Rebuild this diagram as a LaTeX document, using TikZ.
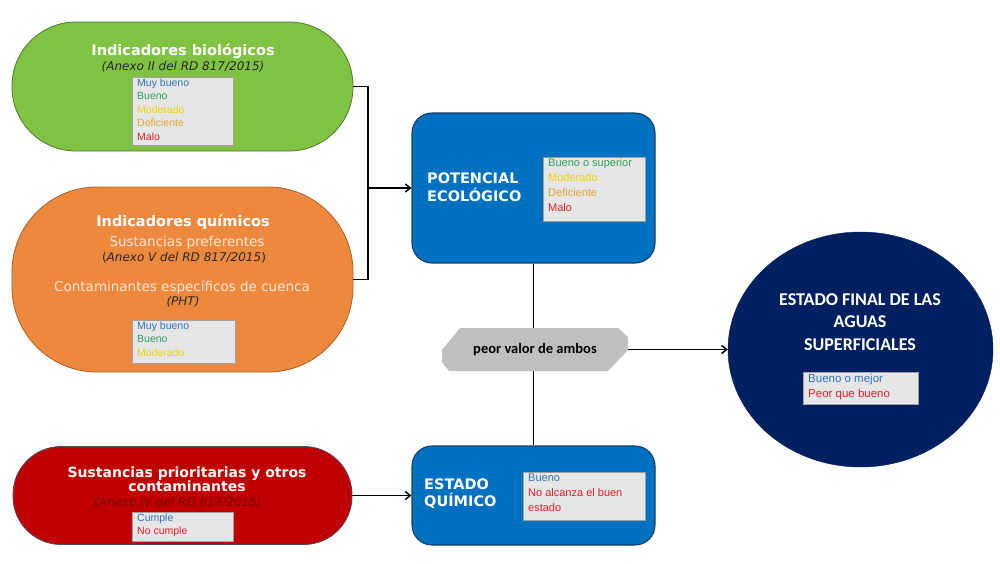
\documentclass[tikz,border=0pt]{standalone}
\usepackage{fontspec}
\setmainfont{DejaVu Sans}
\newfontfamily\carl{Carlito}
\newfontfamily\tahf{Liberation Sans}
\usetikzlibrary{arrows.meta,shapes.geometric}
\definecolor{bioG}{RGB}{128,195,66}
\definecolor{bioD}{RGB}{80,120,45}
\definecolor{quimO}{RGB}{237,137,62}
\definecolor{quimD}{RGB}{170,95,35}
\definecolor{priR}{RGB}{192,0,0}
\definecolor{priD}{RGB}{70,75,110}
\definecolor{boxB}{RGB}{0,112,192}
\definecolor{boxD}{RGB}{25,60,110}
\definecolor{navy}{RGB}{0,32,96}
\definecolor{hexgray}{RGB}{191,191,191}
\definecolor{lfill}{RGB}{230,230,230}
\definecolor{ldraw}{RGB}{160,160,160}
\definecolor{cMuy}{RGB}{46,117,182}
\definecolor{cBueno}{RGB}{45,160,95}
\definecolor{cMod}{RGB}{232,214,0}
\definecolor{cDef}{RGB}{222,165,45}
\definecolor{cMalo}{RGB}{222,30,40}
\definecolor{cream}{RGB}{252,230,215}
\definecolor{dkred}{RGB}{120,0,0}
\begin{document}
\begin{tikzpicture}[x=1pt,y=-1pt,
  stad/.style={line width=0.8pt, inner sep=0pt},
  bbox/.style={fill=boxB, draw=boxD, line width=1.1pt, rounded corners=20pt, inner sep=0pt},
  ttl/.style={text=white, font=\bfseries\fontsize{14.5}{14}\selectfont, inner sep=0pt, align=center},
  sub/.style={text=black!85, font=\fontsize{12}{13}\selectfont, inner sep=0pt, align=center},
  lbox/.style={fill=lfill, draw=ldraw, line width=0.6pt, inner sep=0pt},
  ltxt/.style={font=\tahf\fontsize{10.5}{13.5}\selectfont, align=left, inner xsep=5pt, inner ysep=1.5pt, anchor=north west},
  ltxtb/.style={font=\tahf\fontsize{11}{15}\selectfont, align=left, inner xsep=5pt, inner ysep=1.5pt, anchor=north west},
  conn/.style={line width=1.5pt, black},
  arr/.style={conn, -{Straight Barb[length=5pt,width=8pt]}}
]
\useasboundingbox (0,0) rectangle (1000,563);
\fill[white] (0,0) rectangle (1000,563);

% ---------- left stadiums ----------
\node[stad, fill=bioG, draw=bioD, minimum width=341pt, minimum height=129pt, rounded corners=64pt] (bio) at (182.5,86.5) {};
\node[stad, fill=quimO, draw=quimD, minimum width=341pt, minimum height=185pt, rounded corners=85pt] (quim) at (182.5,279.5) {};
\node[stad, fill=priR, draw=priD, minimum width=339pt, minimum height=98pt, rounded corners=48pt] (pri) at (182.5,495.5) {};

% biological
\node[ttl] (bioT) at (183,51) {Indicadores biológicos};
\node[sub] (bioA) at (183,67) {\itshape (Anexo II del RD 817/2015)};
\node[lbox, minimum width=101pt, minimum height=68pt, anchor=north west] (bioL) at (132,77) {};
\node[ltxt] (bioLt) at (bioL.north west) {\textcolor{cMuy}{Muy bueno}\\\textcolor{cBueno}{Bueno}\\\textcolor{cMod}{Moderado}\\\textcolor{cDef}{Deficiente}\\\textcolor{cMalo}{Malo}};

% chemical
\node[ttl] (quimT) at (183,222) {Indicadores químicos};
\node[sub, text=cream, font=\fontsize{13.5}{14}\selectfont] (quimS1) at (187,243) {Sustancias preferentes};
\node[sub] (quimA1) at (184,258) {(\textit{Anexo V del RD 817/2015})};
\node[sub, text=cream, font=\fontsize{13.5}{14}\selectfont] (quimS2) at (182,287) {Contaminantes específicos de cuenca};
\node[sub] (quimA2) at (183,302) {\itshape (PHT)};
\node[lbox, minimum width=103pt, minimum height=43pt, anchor=north west] (quimL) at (132,320) {};
\node[ltxt] (quimLt) at (quimL.north west) {\textcolor{cMuy}{Muy bueno}\\\textcolor{cBueno}{Bueno}\\\textcolor{cMod}{Moderado}};

% priority substances
\node[ttl, font=\bfseries\fontsize{14}{14}\selectfont] (priT) at (187,479) {Sustancias prioritarias y otros\\contaminantes};
\node[sub, text=dkred] (priA) at (178,502.5) {\itshape (Anexo IV del RD 817/2015)};
\node[lbox, minimum width=101pt, minimum height=29pt, anchor=north west] (priL) at (132,512) {};
\node[ltxt] (priLt) at (priL.north west) {\textcolor{cMuy}{Cumple}\\\textcolor{cMalo}{No cumple}};

% ---------- blue boxes ----------
\node[bbox, minimum width=243pt, minimum height=150pt] (pot) at (533.5,188) {};
\node[ttl, font=\bfseries\fontsize{14.5}{18}\selectfont, align=left, anchor=west] (potT) at (427,187) {POTENCIAL\\ECOLÓGICO};
\node[lbox, minimum width=102pt, minimum height=64pt, anchor=north west] (potL) at (543,157) {};
\node[ltxtb] (potLt) at (potL.north west) {\textcolor{cBueno}{Bueno o superior}\\\textcolor{cMod}{Moderado}\\\textcolor{cDef}{Deficiente}\\\textcolor{cMalo}{Malo}};

\node[bbox, minimum width=243pt, minimum height=99pt] (est) at (533.5,495.5) {};
\node[ttl, font=\bfseries\fontsize{14.5}{17}\selectfont, align=left, anchor=west] (estT) at (424,494) {ESTADO\\QUÍMICO};
\node[lbox, minimum width=122pt, minimum height=48pt, anchor=north west] (estL) at (523,472) {};
\node[ltxtb] (estLt) at (estL.north west) {\textcolor{cMuy}{Bueno}\\\textcolor{cMalo}{No alcanza el buen}\\\textcolor{cMalo}{estado}};

% ---------- hexagon ----------
\fill[hexgray] (460,328) -- (618,328) -- (628,337) -- (628,350) -- (608,371) -- (449,371) -- (442,362) -- (442,350) -- cycle;
\node[inner sep=0pt, minimum width=186pt, minimum height=43pt, font=\carl\bfseries\fontsize{14.5}{16}\selectfont] (hex) at (535,349.5) {peor valor de ambos};

% ---------- final ellipse ----------
\node[ellipse, fill=navy, draw=navy, minimum width=265pt, minimum height=235pt, inner sep=0pt] (fin) at (860.5,349.5) {};
\node[text=white, font=\carl\bfseries\fontsize{18}{22.5}\selectfont, align=center, inner sep=0pt] (finT) at (860,322) {ESTADO FINAL DE LAS\\AGUAS\\SUPERFICIALES};
\node[lbox, minimum width=115pt, minimum height=32pt, anchor=north west] (finL) at (803,372) {};
\node[ltxtb, font=\tahf\fontsize{11.5}{15}\selectfont] (finLt) at (finL.north west) {\textcolor{cMuy}{Bueno o mejor}\\\textcolor{cMalo}{Peor que bueno}};

% ---------- connectors ----------
\coordinate (jm) at (368,188);
\draw[conn] (bio.east) -| (jm) |- (quim.east);
\draw[arr] (jm) -- (pot.west);
\draw[conn] (pot.south) -- (pot.south |- hex.north);
\draw[conn] (est.north |- hex.south) -- (est.north);
\draw[arr] (hex.east) -- (fin.west);
\draw[arr] (pri.east) -- (est.west);
\end{tikzpicture}
\end{document}
